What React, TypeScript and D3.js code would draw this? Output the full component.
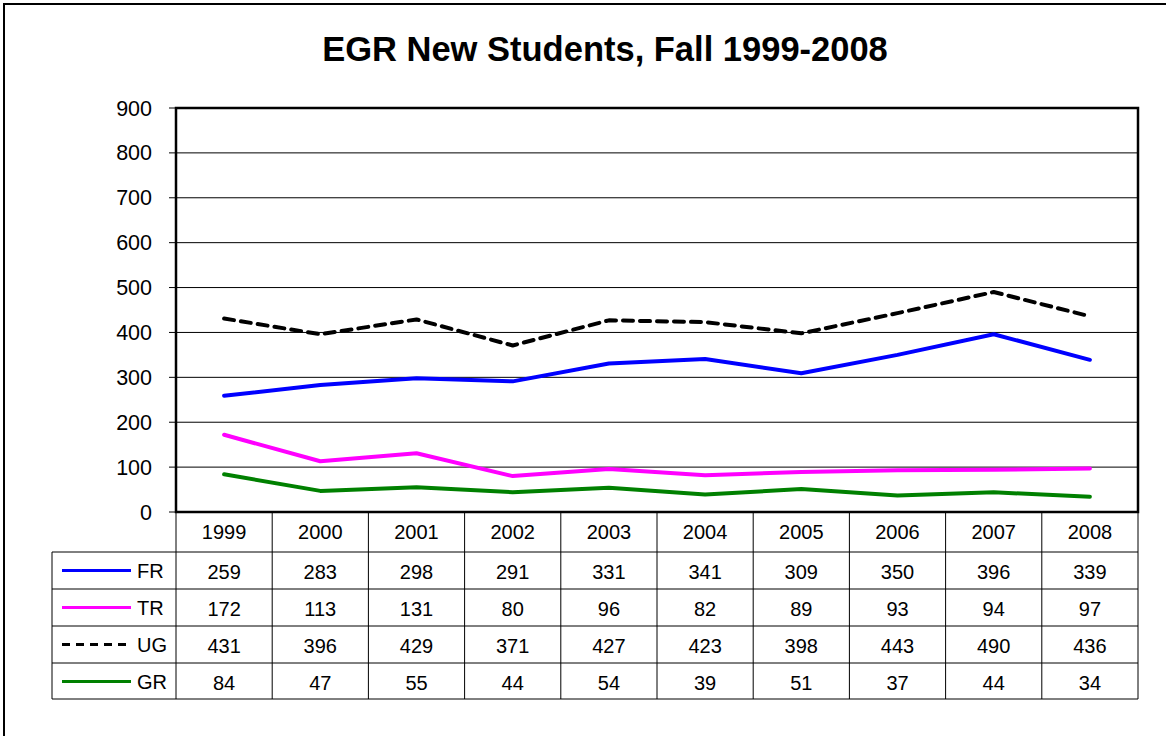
import React from "react";
import * as d3 from "d3";

const years = ["1999", "2000", "2001", "2002", "2003", "2004", "2005", "2006", "2007", "2008"];
const fr = [259, 283, 298, 291, 331, 341, 309, 350, 396, 339];
const tr = [172, 113, 131, 80, 96, 82, 89, 93, 94, 97];
const ug = [431, 396, 429, 371, 427, 423, 398, 443, 490, 436];
const gr = [84, 47, 55, 44, 54, 39, 51, 37, 44, 34];
const yTicks = [0, 100, 200, 300, 400, 500, 600, 700, 800, 900];

const seriesList = [
  { name: "FR", values: fr, color: "#0000FF", dash: "" },
  { name: "TR", values: tr, color: "#FF00FF", dash: "" },
  { name: "UG", values: ug, color: "#000000", dash: "10,7" },
  { name: "GR", values: gr, color: "#008000", dash: "" },
];

export default function App() {
  const W = 1166, H = 736;
  const left = 176, right = 1138, top = 108, bottom = 512;
  const x = d3.scaleBand<string>().domain(years).range([left, right]);
  const y = d3.scaleLinear().domain([0, 900]).range([bottom, top]);
  const line = d3
    .line<number>()
    .x((_, i) => (x(years[i]) as number) + x.bandwidth() / 2)
    .y((d) => y(d));
  const rowTops = [552, 589, 626, 663];
  const rowH = 37;
  const tableBottom = 699;
  const legendLeft = 52;
  const font = "Arial, 'Liberation Sans', sans-serif";
  return (
    <svg width={W} height={H} style={{ position: "absolute", left: 0, top: 0 }} fontFamily={font}>
      <rect x={0} y={0} width={W} height={H} fill="#fff" />
      <rect x={4} y={4} width={W + 10} height={H + 10} fill="none" stroke="#000" strokeWidth={2} />
      <text x={605} y={61} textAnchor="middle" fontSize={34.5} fontWeight="bold">
        EGR New Students, Fall 1999-2008
      </text>
      {yTicks.map((t) => (
        <g key={t}>
          {t > 0 && t < 900 && (
            <line x1={left} x2={right} y1={y(t)} y2={y(t)} stroke="#000" strokeWidth={1} />
          )}
          <line x1={left - 7} x2={left} y1={y(t)} y2={y(t)} stroke="#000" strokeWidth={1} />
          <text x={152} y={y(t) + 7.5} textAnchor="end" fontSize={21.5}>
            {t}
          </text>
        </g>
      ))}
      {seriesList.map((s) => (
        <path
          key={s.name}
          d={line(s.values) || ""}
          fill="none"
          stroke={s.color}
          strokeWidth={4}
          strokeDasharray={s.dash}
          strokeLinejoin="round"
          strokeLinecap="round"
        />
      ))}
      <rect x={left} y={top} width={right - left} height={bottom - top} fill="none" stroke="#000" strokeWidth={2.5} />
      {/* data table */}
      <g stroke="#000" strokeWidth={1}>
        {years.map((yr) => (
          <line key={yr} x1={x(yr) as number} x2={x(yr) as number} y1={bottom} y2={tableBottom} />
        ))}
        <line x1={right} x2={right} y1={bottom} y2={tableBottom} />
        <line x1={legendLeft} x2={legendLeft} y1={rowTops[0]} y2={tableBottom} />
        {rowTops.map((r) => (
          <line key={r} x1={legendLeft} x2={right} y1={r} y2={r} />
        ))}
        <line x1={legendLeft} x2={right} y1={tableBottom} y2={tableBottom} />
      </g>
      {years.map((yr) => (
        <text
          key={yr}
          x={(x(yr) as number) + x.bandwidth() / 2}
          y={539}
          textAnchor="middle"
          fontSize={20}
        >
          {yr}
        </text>
      ))}
      {seriesList.map((s, si) => (
        <g key={s.name}>
          <line
            x1={62}
            x2={131}
            y1={rowTops[si] + rowH / 2}
            y2={rowTops[si] + rowH / 2}
            stroke={s.color}
            strokeWidth={3}
            strokeDasharray={s.dash ? "8,6" : ""}
          />
          <text x={137} y={rowTops[si] + rowH / 2 + 7} fontSize={20}>
            {s.name}
          </text>
          {s.values.map((v, i) => (
            <text
              key={i}
              x={(x(years[i]) as number) + x.bandwidth() / 2}
              y={rowTops[si] + rowH / 2 + 8}
              textAnchor="middle"
              fontSize={20}
            >
              {v}
            </text>
          ))}
        </g>
      ))}
    </svg>
  );
}
